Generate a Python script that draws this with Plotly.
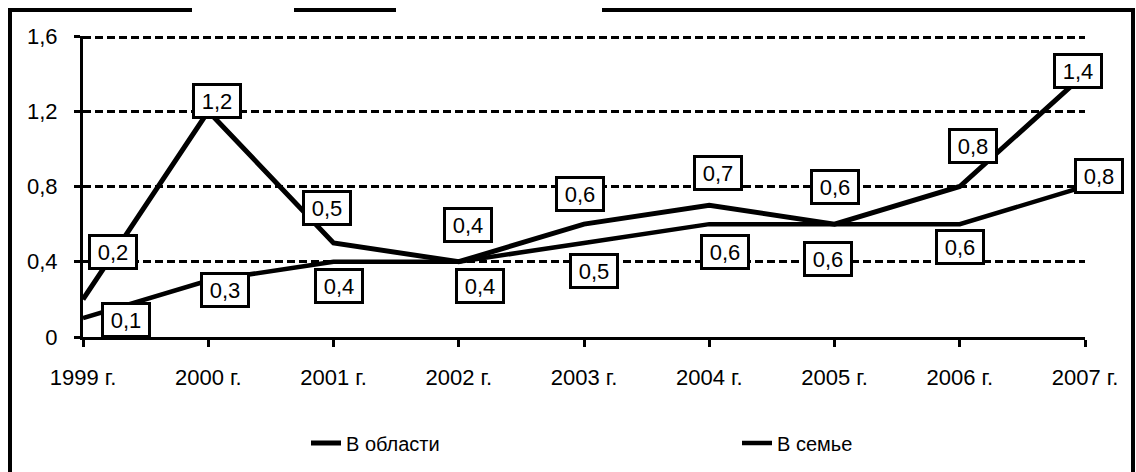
import plotly.graph_objects as go

# ---- data ----
years = ["1999 г.", "2000 г.", "2001 г.", "2002 г.", "2003 г.", "2004 г.", "2005 г.", "2006 г.", "2007 г."]
oblast = [0.2, 1.2, 0.5, 0.4, 0.6, 0.7, 0.6, 0.8, 1.4]
semya = [0.1, 0.3, 0.4, 0.4, 0.5, 0.6, 0.6, 0.6, 0.8]
series_names = ["В области", "В семье"]
y_ticks = [0, 0.4, 0.8, 1.2, 1.6]
y_tick_labels = ["0", "0,4", "0,8", "1,2", "1,6"]

# ---- label placement (screen px offsets from point, y down) ----
oblast_off = [(30, -47), (9, -10), (-7, -35), (9, -37), (-4, -30), (9, -32), (0, -37), (13, -41), (-7, -3)]
semya_off = [(43, 2), (17, 9), (5, 24), (21, 24), (10, 28), (16, 28), (-7, 35), (0, 23), (14, -11)]

W, H = 1136, 472
L, R, T, B = 83, 51, 36, 135
PW, PH = W - L - R, H - T - B
FONT = "Liberation Sans, Arial, sans-serif"
DASH = "8px,4px"


def px(x):
    return (x - L) / PW


def py(y):
    return (H - B - y) / PH


fig = go.Figure()
fig.add_trace(go.Scatter(x=years, y=oblast, mode="lines", name=series_names[0],
                         line=dict(color="black", width=5), cliponaxis=False,
                         legend="legend"))
fig.add_trace(go.Scatter(x=years, y=semya, mode="lines", name=series_names[1],
                         line=dict(color="black", width=4.5), cliponaxis=False,
                         legend="legend2"))


def fmt(v):
    return f"{v:.1f}".replace(".", ",")


annotations = []
for vals, offs in ((oblast, oblast_off), (semya, semya_off)):
    for cat, v, (dx, dy) in zip(years, vals, offs):
        annotations.append(dict(
            x=cat, y=v, xref="x", yref="y", text=fmt(v), showarrow=False,
            xshift=dx, yshift=-dy, font=dict(family=FONT, size=22, color="black"),
            bgcolor="white", bordercolor="black", borderwidth=3, borderpad=2,
            width=40, height=26,
        ))

shapes = []
border = [((10, 10), (10, 490)), ((1133, 10), (1133, 490)),
          ((8, 10), (192, 10)), ((294, 10), (396, 10)), ((602, 10), (1135, 10))]
for (x0, y0), (x1, y1) in border:
    shapes.append(dict(type="line", xref="paper", yref="paper",
                       x0=px(x0), y0=py(y0), x1=px(x1), y1=py(y1),
                       line=dict(color="black", width=4)))
# top gridline (Plotly hides the grid line lying on the plot edge)
shapes.append(dict(type="line", xref="paper", yref="y", x0=0, x1=1,
                   y0=y_ticks[-1], y1=y_ticks[-1], layer="below",
                   line=dict(color="black", width=6, dash=DASH)))

legend_style = dict(orientation="h", xanchor="left", yanchor="middle",
                    font=dict(family=FONT, size=20, color="black"),
                    bgcolor="rgba(0,0,0,0)", borderwidth=0)

fig.update_layout(
    width=W, height=H, autosize=False,
    margin=dict(l=L, r=R, t=T, b=B, autoexpand=False),
    paper_bgcolor="white", plot_bgcolor="white",
    font=dict(family=FONT, size=20, color="black"),
    showlegend=True,
    legend=dict(x=px(306), y=py(443), **legend_style),
    legend2=dict(x=px(737), y=py(443), **legend_style),
    annotations=annotations,
    shapes=shapes,
)
fig.update_xaxes(type="category", range=[0, 8], showgrid=False, zeroline=False,
                 showline=True, linecolor="black", linewidth=3,
                 ticks="outside", ticklen=7, tickwidth=3, tickcolor="black",
                 ticklabelstandoff=12, tickfont=dict(family=FONT, size=22, color="black"))
fig.update_yaxes(range=[0, 1.6], tickvals=y_ticks, ticktext=y_tick_labels,
                 showgrid=True, gridcolor="black", gridwidth=3, griddash=DASH,
                 zeroline=False, showline=True, linecolor="black", linewidth=3,
                 ticks="outside", ticklen=6, tickwidth=3, tickcolor="black",
                 ticklabelstandoff=12, tickfont=dict(family=FONT, size=22, color="black"))

fig.write_html("out.html", config={"displayModeBar": False},
               post_script="document.body.style.margin='0';")
